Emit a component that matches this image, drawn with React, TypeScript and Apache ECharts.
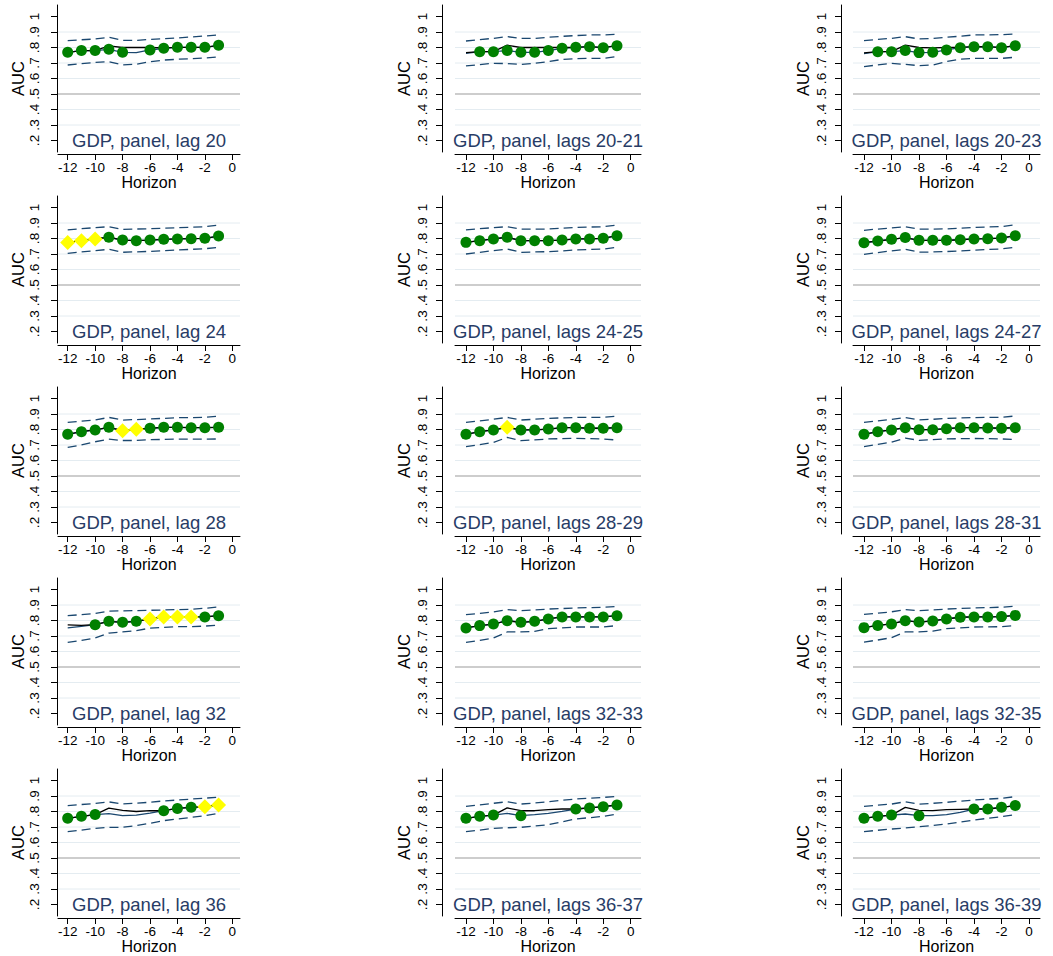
import { useEffect, useRef } from "react";
import * as echarts from "echarts";

const FONT = '"Liberation Sans", Arial, Helvetica, sans-serif';

const horizons = [-12, -11, -10, -9, -8, -7, -6, -5, -4, -3, -2, -1];
const xTicks = [-12, -10, -8, -6, -4, -2, 0];
const yTicks = [0.2, 0.3, 0.4, 0.5, 0.6, 0.7, 0.8, 0.9, 1.0];
const gridValues = [0.3, 0.4, 0.6, 0.7, 0.8, 0.9];
const refValue = 0.5;

const panelTitles = [
  "GDP, panel, lag 20", "GDP, panel, lags 20-21", "GDP, panel, lags 20-23",
  "GDP, panel, lag 24", "GDP, panel, lags 24-25", "GDP, panel, lags 24-27",
  "GDP, panel, lag 28", "GDP, panel, lags 28-29", "GDP, panel, lags 28-31",
  "GDP, panel, lag 32", "GDP, panel, lags 32-33", "GDP, panel, lags 32-35",
  "GDP, panel, lag 36", "GDP, panel, lags 36-37", "GDP, panel, lags 36-39",
];

// g = green circle, y = yellow diamond, . = no marker
const markerKind = [
  "ggggg.gggggg", ".ggggggggggg", ".ggggggggggg",
  "yyyggggggggg", "gggggggggggg", "gggggggggggg",
  "ggggyygggggg", "gggygggggggg", "gggggggggggg",
  "..ggggyyyygg", "gggggggggggg", "gggggggggggg",
  "ggg....gggyy", "ggg.g...gggg", "ggg.g...gggg",
];

// AUC estimate (navy solid line, markers sit on it)
const aucMain = [
  [0.769, 0.780, 0.780, 0.788, 0.769, 0.767, 0.784, 0.795, 0.801, 0.801, 0.801, 0.814],
  [0.762, 0.773, 0.773, 0.780, 0.769, 0.769, 0.780, 0.795, 0.801, 0.805, 0.799, 0.812],
  [0.760, 0.773, 0.773, 0.780, 0.767, 0.769, 0.784, 0.799, 0.805, 0.805, 0.799, 0.812],
  [0.775, 0.786, 0.797, 0.808, 0.790, 0.786, 0.790, 0.795, 0.797, 0.799, 0.801, 0.816],
  [0.775, 0.786, 0.797, 0.808, 0.786, 0.786, 0.786, 0.790, 0.797, 0.797, 0.801, 0.818],
  [0.773, 0.784, 0.795, 0.806, 0.788, 0.788, 0.788, 0.792, 0.797, 0.799, 0.803, 0.818],
  [0.769, 0.786, 0.797, 0.814, 0.792, 0.801, 0.808, 0.814, 0.814, 0.812, 0.812, 0.814],
  [0.769, 0.786, 0.797, 0.814, 0.797, 0.797, 0.803, 0.812, 0.812, 0.808, 0.808, 0.812],
  [0.769, 0.786, 0.797, 0.812, 0.799, 0.799, 0.805, 0.812, 0.812, 0.810, 0.808, 0.812],
  [0.752, 0.762, 0.773, 0.795, 0.788, 0.795, 0.810, 0.823, 0.823, 0.823, 0.823, 0.831],
  [0.752, 0.767, 0.777, 0.799, 0.788, 0.795, 0.810, 0.823, 0.823, 0.823, 0.823, 0.831],
  [0.754, 0.768, 0.778, 0.799, 0.790, 0.797, 0.810, 0.821, 0.823, 0.823, 0.825, 0.833],
  [0.756, 0.769, 0.780, 0.786, 0.773, 0.777, 0.790, 0.805, 0.820, 0.827, 0.831, 0.842],
  [0.756, 0.769, 0.777, 0.788, 0.773, 0.780, 0.788, 0.801, 0.816, 0.823, 0.831, 0.842],
  [0.756, 0.769, 0.777, 0.784, 0.773, 0.773, 0.780, 0.795, 0.816, 0.816, 0.827, 0.838],
];

// Alternative AUC (black solid line)
const aucAlt = [
  [0.769, 0.780, 0.780, 0.810, 0.800, 0.800, 0.800, 0.797, 0.801, 0.801, 0.801, 0.814],
  [0.767, 0.773, 0.773, 0.815, 0.800, 0.800, 0.800, 0.800, 0.801, 0.805, 0.799, 0.812],
  [0.765, 0.773, 0.773, 0.815, 0.800, 0.798, 0.800, 0.801, 0.805, 0.805, 0.799, 0.812],
  [0.775, 0.786, 0.797, 0.808, 0.790, 0.786, 0.790, 0.795, 0.797, 0.799, 0.801, 0.816],
  [0.775, 0.786, 0.797, 0.808, 0.786, 0.786, 0.786, 0.790, 0.797, 0.797, 0.801, 0.818],
  [0.773, 0.784, 0.795, 0.806, 0.788, 0.788, 0.788, 0.792, 0.797, 0.799, 0.803, 0.818],
  [0.769, 0.786, 0.797, 0.814, 0.792, 0.801, 0.808, 0.814, 0.814, 0.812, 0.812, 0.814],
  [0.769, 0.786, 0.797, 0.814, 0.797, 0.797, 0.803, 0.812, 0.812, 0.808, 0.808, 0.812],
  [0.769, 0.786, 0.797, 0.812, 0.799, 0.799, 0.805, 0.812, 0.812, 0.810, 0.808, 0.812],
  [0.772, 0.768, 0.773, 0.795, 0.788, 0.795, 0.810, 0.823, 0.823, 0.823, 0.823, 0.831],
  [0.752, 0.767, 0.777, 0.799, 0.788, 0.795, 0.810, 0.823, 0.823, 0.823, 0.823, 0.831],
  [0.754, 0.768, 0.778, 0.799, 0.790, 0.797, 0.810, 0.821, 0.823, 0.823, 0.825, 0.833],
  [0.756, 0.769, 0.780, 0.822, 0.807, 0.800, 0.805, 0.805, 0.820, 0.827, 0.831, 0.842],
  [0.756, 0.769, 0.777, 0.823, 0.805, 0.805, 0.812, 0.816, 0.816, 0.823, 0.831, 0.842],
  [0.756, 0.769, 0.777, 0.827, 0.807, 0.805, 0.812, 0.814, 0.816, 0.816, 0.827, 0.838],
];

const ciUpper = [
  [0.844, 0.850, 0.855, 0.866, 0.846, 0.846, 0.852, 0.857, 0.862, 0.868, 0.874, 0.882],
  [0.842, 0.851, 0.859, 0.870, 0.859, 0.859, 0.866, 0.872, 0.877, 0.881, 0.881, 0.885],
  [0.844, 0.852, 0.859, 0.870, 0.855, 0.858, 0.866, 0.873, 0.881, 0.881, 0.883, 0.887],
  [0.855, 0.863, 0.870, 0.876, 0.859, 0.861, 0.863, 0.866, 0.870, 0.873, 0.876, 0.887],
  [0.855, 0.863, 0.870, 0.876, 0.861, 0.861, 0.861, 0.866, 0.872, 0.874, 0.876, 0.887],
  [0.853, 0.861, 0.868, 0.875, 0.860, 0.861, 0.862, 0.866, 0.871, 0.874, 0.877, 0.888],
  [0.846, 0.854, 0.861, 0.878, 0.861, 0.864, 0.868, 0.872, 0.876, 0.877, 0.878, 0.887],
  [0.846, 0.856, 0.866, 0.878, 0.861, 0.866, 0.872, 0.875, 0.878, 0.878, 0.878, 0.887],
  [0.846, 0.856, 0.865, 0.877, 0.862, 0.866, 0.871, 0.875, 0.877, 0.878, 0.879, 0.887],
  [0.831, 0.838, 0.846, 0.861, 0.862, 0.864, 0.866, 0.868, 0.870, 0.873, 0.879, 0.887],
  [0.838, 0.846, 0.855, 0.870, 0.863, 0.868, 0.874, 0.877, 0.881, 0.883, 0.885, 0.891],
  [0.839, 0.847, 0.856, 0.870, 0.864, 0.868, 0.874, 0.878, 0.881, 0.883, 0.886, 0.892],
  [0.838, 0.845, 0.852, 0.862, 0.849, 0.853, 0.860, 0.868, 0.874, 0.880, 0.886, 0.892],
  [0.833, 0.843, 0.853, 0.863, 0.848, 0.855, 0.863, 0.872, 0.881, 0.886, 0.891, 0.898],
  [0.833, 0.841, 0.848, 0.863, 0.848, 0.853, 0.859, 0.867, 0.874, 0.880, 0.885, 0.896],
];

const ciLower = [
  [0.687, 0.696, 0.704, 0.708, 0.688, 0.692, 0.708, 0.719, 0.724, 0.728, 0.732, 0.739],
  [0.681, 0.690, 0.698, 0.696, 0.691, 0.698, 0.709, 0.723, 0.728, 0.730, 0.730, 0.741],
  [0.676, 0.688, 0.698, 0.691, 0.683, 0.687, 0.709, 0.724, 0.730, 0.730, 0.730, 0.737],
  [0.704, 0.713, 0.722, 0.730, 0.711, 0.714, 0.717, 0.722, 0.726, 0.730, 0.734, 0.743],
  [0.700, 0.711, 0.722, 0.732, 0.711, 0.713, 0.715, 0.720, 0.726, 0.729, 0.732, 0.743],
  [0.698, 0.709, 0.720, 0.730, 0.712, 0.713, 0.716, 0.720, 0.725, 0.729, 0.733, 0.744],
  [0.685, 0.700, 0.721, 0.738, 0.729, 0.729, 0.734, 0.736, 0.738, 0.738, 0.738, 0.739],
  [0.689, 0.703, 0.717, 0.749, 0.728, 0.733, 0.739, 0.741, 0.743, 0.741, 0.739, 0.732],
  [0.690, 0.704, 0.718, 0.745, 0.730, 0.734, 0.739, 0.741, 0.742, 0.741, 0.739, 0.735],
  [0.659, 0.672, 0.687, 0.719, 0.726, 0.734, 0.751, 0.755, 0.760, 0.760, 0.764, 0.771],
  [0.659, 0.672, 0.687, 0.726, 0.726, 0.730, 0.747, 0.752, 0.758, 0.758, 0.758, 0.767],
  [0.661, 0.674, 0.689, 0.726, 0.727, 0.731, 0.748, 0.753, 0.758, 0.759, 0.760, 0.768],
  [0.670, 0.680, 0.691, 0.698, 0.698, 0.709, 0.724, 0.741, 0.752, 0.762, 0.773, 0.788],
  [0.670, 0.680, 0.691, 0.695, 0.698, 0.706, 0.715, 0.733, 0.752, 0.760, 0.769, 0.784],
  [0.670, 0.679, 0.687, 0.694, 0.702, 0.710, 0.719, 0.732, 0.745, 0.756, 0.767, 0.780],
];

// layout (pixels) per column of the 5 x 3 grid
const colLayout = [
  { axisX: 57, left: 58, right: 240, xMin: -12.707, xMax: 0.561, labelMargin: 16 },
  { axisX: 442, left: 455, right: 641, xMin: -12.8, xMax: 0.75, labelMargin: 13 },
  { axisX: 841, left: 853, right: 1040, xMin: -12.8, xMax: 0.8, labelMargin: 13 },
];
const ROW0_Y05 = 94;
const ROW_STEP = 191;
const PX_PER_UNIT_Y = 155; // px per 1.0 AUC
const ABOVE = 89; // px from .5 line to top of plot
const BELOW = 58; // px from .5 line to bottom of plot

const NAVY = "#1a476f";
const GREEN = "#008000";
const YELLOW = "#ffff00";
const TITLE = "#283c66";

function buildOption() {
  const grids: any[] = [];
  const xAxes: any[] = [];
  const yAxes: any[] = [];
  const series: any[] = [];
  const graphics: any[] = [];

  panelTitles.forEach((title, p) => {
    const r = Math.floor(p / 3);
    const c = p % 3;
    const col = colLayout[c];
    const y05 = ROW0_Y05 + r * ROW_STEP;
    const yMin = refValue - BELOW / PX_PER_UNIT_Y;
    const yMax = refValue + ABOVE / PX_PER_UNIT_Y;

    grids.push({
      left: col.left,
      top: y05 - ABOVE,
      width: col.right - col.left,
      height: ABOVE + BELOW,
      containLabel: false,
      outerBoundsMode: "none",
    });

    xAxes.push({
      gridIndex: p,
      type: "value",
      min: col.xMin,
      max: col.xMax,
      offset: 2,
      axisLine: { show: true, onZero: false, lineStyle: { color: "#000", width: 1 } },
      axisTick: { show: true, customValues: xTicks, length: 6, lineStyle: { color: "#000", width: 1 } },
      axisLabel: {
        show: true,
        customValues: xTicks,
        formatter: (v: number) => String(Math.round(v)),
        fontSize: 13.5,
        color: "#000",
        margin: 6,
        fontFamily: FONT,
      },
      splitLine: { show: false },
      name: "Horizon",
      nameLocation: "middle",
      nameGap: 18,
      nameTextStyle: { fontSize: 16, color: "#000", fontFamily: FONT },
    });

    yAxes.push({
      gridIndex: p,
      type: "value",
      min: yMin,
      max: yMax,
      offset: col.left - col.axisX,
      axisLine: { show: true, onZero: false, lineStyle: { color: "#000", width: 1 } },
      axisTick: { show: true, customValues: yTicks, length: 6, lineStyle: { color: "#000", width: 1 } },
      axisLabel: {
        show: true,
        customValues: yTicks,
        rotate: 90,
        formatter: (v: number) => (v >= 0.999 ? "1" : "." + Math.round(v * 10)),
        fontSize: 13.5,
        color: "#000",
        margin: col.labelMargin,
        fontFamily: FONT,
      },
      splitLine: { show: false },
      name: "AUC",
      nameLocation: "middle",
      nameRotate: 90,
      nameGap: 30,
      nameTextStyle: { fontSize: 16.5, color: "#000", fontFamily: FONT },
    });

    // grid lines
    gridValues.forEach((g) => {
      series.push({
        type: "line",
        xAxisIndex: p,
        yAxisIndex: p,
        z: 1,
        silent: true,
        symbol: "none",
        data: [[col.xMin, g], [col.xMax, g]],
        lineStyle: { color: "#e4ecf1", width: 1 },
      });
    });
    series.push({
      type: "line",
      xAxisIndex: p,
      yAxisIndex: p,
      z: 1,
      silent: true,
      symbol: "none",
      data: [[col.xMin, refValue], [col.xMax, refValue]],
      lineStyle: { color: "#bcbcbc", width: 1.5 },
    });

    const mk = (arr: number[]) => horizons.map((h, i) => [h, arr[i]]);

    series.push({
      type: "line", xAxisIndex: p, yAxisIndex: p, z: 2, silent: true, symbol: "none",
      data: mk(ciUpper[p]),
      lineStyle: { color: NAVY, width: 1.3, type: [9, 5] },
    });
    series.push({
      type: "line", xAxisIndex: p, yAxisIndex: p, z: 2, silent: true, symbol: "none",
      data: mk(ciLower[p]),
      lineStyle: { color: NAVY, width: 1.3, type: [9, 5] },
    });
    series.push({
      type: "line", xAxisIndex: p, yAxisIndex: p, z: 3, silent: true, symbol: "none",
      data: mk(aucMain[p]),
      lineStyle: { color: NAVY, width: 1.3 },
    });
    series.push({
      type: "line", xAxisIndex: p, yAxisIndex: p, z: 4, silent: true, symbol: "none",
      data: mk(aucAlt[p]),
      lineStyle: { color: "#000", width: 1.3 },
    });

    const kinds = markerKind[p];
    const greens: number[][] = [];
    const yellows: number[][] = [];
    horizons.forEach((h, i) => {
      if (kinds[i] === "g") greens.push([h, aucMain[p][i]]);
      else if (kinds[i] === "y") yellows.push([h, aucMain[p][i]]);
    });
    series.push({
      type: "scatter", xAxisIndex: p, yAxisIndex: p, z: 5, silent: true,
      symbol: "circle", symbolSize: 11,
      data: greens,
      itemStyle: { color: GREEN, opacity: 1 },
    });
    series.push({
      type: "scatter", xAxisIndex: p, yAxisIndex: p, z: 5, silent: true,
      symbol: "diamond", symbolSize: 15,
      data: yellows,
      itemStyle: { color: YELLOW, opacity: 1 },
    });

    graphics.push({
      type: "text",
      x: (col.left + col.right) / 2,
      y: y05 + 46,
      z: 10,
      silent: true,
      style: {
        text: title,
        fill: TITLE,
        font: `18.5px ${FONT}`,
        textAlign: "center",
        textVerticalAlign: "middle",
      },
    });
  });

  return {
    animation: false,
    backgroundColor: "#ffffff",
    textStyle: { fontFamily: FONT },
    grid: grids,
    xAxis: xAxes,
    yAxis: yAxes,
    series,
    graphic: graphics,
  };
}

export default function App() {
  const ref = useRef<HTMLDivElement>(null);
  useEffect(() => {
    if (!ref.current) return;
    const chart = echarts.init(ref.current, null, { renderer: "svg" });
    chart.setOption(buildOption() as any);
    return () => chart.dispose();
  }, []);
  return (
    <div
      ref={ref}
      style={{ position: "fixed", left: 0, top: 0, width: 1053, height: 956, background: "#fff" }}
    />
  );
}
